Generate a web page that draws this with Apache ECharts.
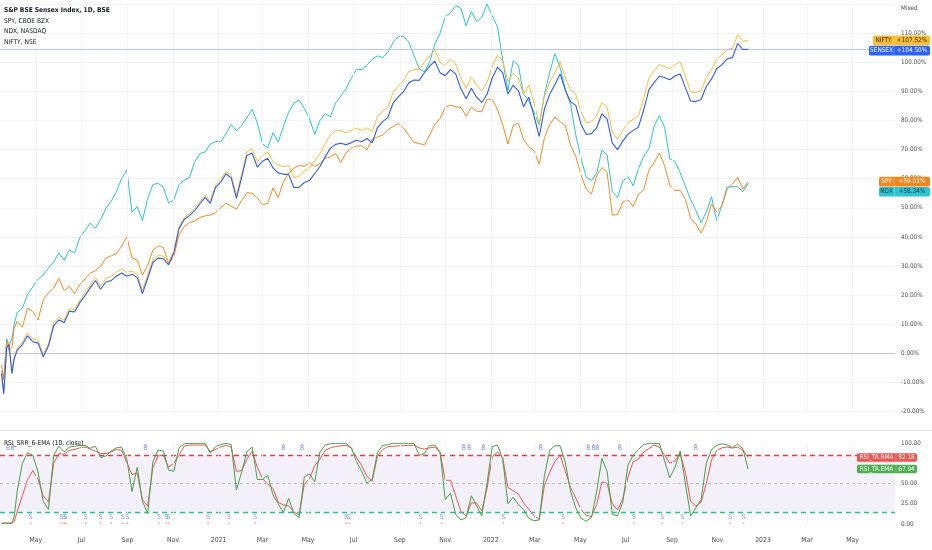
<!DOCTYPE html>
<html><head><meta charset="utf-8">
<script src="https://cdn.jsdelivr.net/npm/echarts@6/dist/echarts.min.js"></script>
<style>html,body{margin:0;padding:0;background:#fff}#c{width:932px;height:550px}</style>
</head><body><div id="c"></div>
<script>
const dates = ['2020-03-16','2020-03-19','2020-03-23','2020-03-26','2020-03-30','2020-04-02','2020-04-06','2020-04-13','2020-04-20','2020-04-27',
'2020-05-04','2020-05-11','2020-05-18','2020-05-25','2020-06-01','2020-06-08','2020-06-15','2020-06-22','2020-06-29','2020-07-06',
'2020-07-13','2020-07-20','2020-07-27','2020-08-03','2020-08-10','2020-08-17','2020-08-24','2020-08-31','2020-09-07','2020-09-14',
'2020-09-21','2020-09-28','2020-10-05','2020-10-12','2020-10-19','2020-10-26','2020-11-02','2020-11-09','2020-11-16','2020-11-23',
'2020-11-30','2020-12-07','2020-12-14','2020-12-21','2020-12-28','2021-01-04','2021-01-11','2021-01-18','2021-01-25','2021-02-01',
'2021-02-08','2021-02-15','2021-02-22','2021-03-01','2021-03-08','2021-03-15','2021-03-22','2021-03-29','2021-04-05','2021-04-12',
'2021-04-19','2021-04-26','2021-05-03','2021-05-10','2021-05-17','2021-05-24','2021-05-31','2021-06-07','2021-06-14','2021-06-21',
'2021-06-28','2021-07-05','2021-07-12','2021-07-19','2021-07-26','2021-08-02','2021-08-09','2021-08-16','2021-08-23','2021-08-30',
'2021-09-06','2021-09-13','2021-09-20','2021-09-27','2021-10-04','2021-10-11','2021-10-18','2021-10-25','2021-11-01','2021-11-08',
'2021-11-15','2021-11-22','2021-11-29','2021-12-06','2021-12-13','2021-12-20','2021-12-27','2022-01-03','2022-01-10','2022-01-17',
'2022-01-24','2022-01-31','2022-02-07','2022-02-14','2022-02-21','2022-02-28','2022-03-07','2022-03-14','2022-03-21','2022-03-28',
'2022-04-04','2022-04-11','2022-04-18','2022-04-25','2022-05-02','2022-05-09','2022-05-16','2022-05-23','2022-05-30','2022-06-06',
'2022-06-13','2022-06-20','2022-06-27','2022-07-04','2022-07-11','2022-07-18','2022-07-25','2022-08-01','2022-08-08','2022-08-15',
'2022-08-22','2022-08-29','2022-09-05','2022-09-12','2022-09-19','2022-09-26','2022-10-03','2022-10-10','2022-10-17','2022-10-24',
'2022-10-31','2022-11-07','2022-11-14','2022-11-21','2022-11-28','2022-12-05','2022-12-12'];

const sensex = [-7,-14,2,3,-7,-2,1,3,6,4,
3.5,-1.2,2.5,9.5,11.5,10.5,14.5,14.2,17.4,19.8,
22.5,25,22,24.5,25,26.5,27.6,26.5,27.2,26,
20.5,25.8,31.2,32.7,32.5,30.4,34.5,42.8,46,47.3,
49,51.4,53.6,51.5,57,58.8,61.7,60.3,53.2,60.5,
68,68.8,64,66,67,63.7,62,61.5,61.5,57,
57,58.7,59.4,61.8,64.2,67.5,70.5,71.8,72.2,71.7,
72.4,73.2,72.7,73.8,72.3,77.5,79.6,81,86,88.1,
89.9,92.9,93.9,93.8,96.4,98.7,100.4,96.4,95.4,97.5,
96,90.9,87.5,91.1,88,86.2,89,94.6,98.3,96.4,
89.1,92.1,90.3,84.7,88,81.5,74.5,84,89,92.3,
96,90.4,86.4,85.2,78.8,75.2,75.5,77.5,82.3,80.5,
72.2,70,72.9,75.3,76.6,77.7,83.6,90.5,93,95.2,
94.8,94,95.3,96,91.2,86.7,86.5,87.2,91.7,94.3,
97.8,99.2,101.2,101.6,106.4,104.4,104.5];

const nifty = [-6.5,-13,2.8,3.8,-6,-1.2,1.8,3.8,7,5,
4.4,-0.3,3.3,10.4,12.4,11.4,15.3,15.1,18.3,20.8,
23.5,26.1,23.1,25.7,26.4,28,29,27.8,28.2,27.1,
21.6,26.8,32.2,33.6,33.4,31.3,35.3,43.4,46.6,48,
49.8,52.2,54.4,52.4,57.8,59.7,62.5,61.2,54.3,61.5,
69.2,70.3,65.8,68,69.2,65.9,64.6,64.2,64.5,60.3,
60.8,62.7,63.6,66,68.6,72,75,76.4,76.5,75.8,
76.6,77.3,76.6,77.5,76.2,81.2,83.3,84.6,89.7,91.9,
93.6,96.8,97.5,97.4,100.1,102.4,104.2,100,98.9,101.1,
99.4,94.5,91,95,92,90.3,93,98.7,102.4,100.5,
93.4,96.3,94.6,89,92.2,86,78.8,88.3,93.2,96.5,
100.3,94.6,90.5,89.1,82.8,79.3,79.6,81.6,86.2,84.6,
76,73.5,76.6,79.1,80.4,81.6,87.5,94.5,97.1,99.2,
98.5,97.8,99.2,100.1,95.2,89.8,89.6,90.3,94.8,97.5,
101.1,102.5,104.4,104.8,109.4,107.2,107.52];

const spy = [-4,-9,4,1,2,8.5,11,9,15.5,14.3,
11.4,18.4,20.8,22.4,25.7,21.5,23,20.5,23.7,25.6,
27.5,28.5,30,32.7,33.5,34.2,36.8,40,32.8,32,
26.9,30.2,35.5,36.9,36.4,30.9,33,40.7,43.5,44.9,
45.5,46.7,47.2,47.5,48.3,50,51.5,50.6,49.5,52.5,
55.2,55,53.4,51.1,51.5,56.9,53.5,58.9,61.9,63.6,
64.5,64.3,65.5,64.2,65.2,67,67.5,68.6,65.6,68.9,
70.5,71.2,71.3,69.9,73.6,74.3,75,76.8,77.9,78.9,
77.4,75,72.5,72.1,71.6,75,78.6,80.7,84.5,85.3,
84.7,84.5,81.5,84.6,83.2,83,87.4,87.2,83.8,78.5,
71.9,78.2,79.1,73.5,71,69.6,65,74.1,78.6,81.2,
79.6,78.3,71.5,67.7,61.3,56.4,54.7,61,63.8,62.2,
47.5,47.7,52,52.7,50.5,54.7,56.1,63,65.5,68.8,
64.5,57.8,55.9,56,52.9,46.4,44.5,41.3,45.2,51.3,
48.6,50.7,56.4,58.1,60.5,56.4,59.01];

const ndx = [-6,-9,5,2.5,5,10,14,15.5,20.3,22.8,
25.5,26.9,29.3,31.5,34.5,32,35.5,34.5,39.7,42.2,
44.8,43,46,49.8,52.2,55.5,60,63,48.5,50.4,
45.7,53.2,58,58.4,57.1,51.7,52.6,58,59.5,60.4,
65.8,68.6,69.2,71.9,72.8,72.7,75.5,78.6,76.5,78.2,
81,83.8,79.2,72,70.6,75.8,72.6,77.9,82.8,86,
87,84.2,80.6,75.2,80,82.4,81.3,86,88.4,90.9,
94.5,97.6,97.5,99,101,102.2,101.6,103.5,106.8,108.9,
108.9,107,102.4,97.8,96.7,100,106.3,110,115.7,117,
119.5,118.5,112.5,117.5,114,115.5,120,116,112.2,100.8,
90.3,100.5,99,89,86.8,82.8,78.4,89,96.5,103,
98.2,90.6,85.5,75,67,60.5,59.4,61.9,69.8,68.2,
55.6,53.5,59.2,60.7,57.5,63.5,67.5,70.3,78,81.7,
77.7,66.8,65.9,62,57.4,52.8,49,44.9,48.5,53.8,
45.5,51,57.2,57.2,57.3,55.5,58.34];

const rsiEma = [0.8,1,1,1,1,9,40,75,88,85,
64,28,18,85,96,89,95,96,97,97,
93.5,96,82,84,90,94,95,80,40,70,
28,13,77,91.4,90,66.7,65,94,99,99.6,
99.6,99.6,99.6,87.5,95.5,98,99.5,98,42,64,
89.3,95,55,55,60,36,25,14,31.7,13,
8,58,62,52,89,97.4,99,99.6,99.6,99.6,
94,77,65,50.5,55,88,97,98,99.6,99.6,
99.6,99.6,99.6,85,87,97,97.5,89,30,38,
12,5,8,35,22,10,50,95.5,97.5,80,
25,33,24,18,7,4,5,60,91,96.5,
96.5,76,40,20,7,3.5,8,40,81,65,
12,10,27,73,85,92,98,99.6,99.6,99.6,
78,57,70,90,50,10,20,30,75,92,
97,99,97.5,94.5,98.5,93,67.94];

const rsiRma = [0.8,1,1,1,1,3,15,35,55,66,
55,35,27,75,87,86,91,92,94,95,
92.5,90,87,87,89,92,91,76,61,63,
30,22,70,84,85,70,75,85,96,97.5,
97.5,97.5,97.5,89.5,92,95,97,95,65,66,
80,90,70,56,49,44,27,23.5,22.5,15,
11,49,56,72,80,91,94,95.8,96.5,97.2,
94,82,72,58.6,53,83.5,92,95.6,96,96.5,
96.8,97,97.3,94,92.5,94,95,88,54,54,
35,15,10,26,26,16,44,83,89,82,
45,41,37,26,18,10,6,48,64,77,
85,65,45,32,18,10.5,9.2,24,52,50,
25,17.3,31,58,77,80,89,93,97.5,95,
85,75,78,87,64,28,22,27,50,79,
91,94,95,93.7,95,91,82.18];

const buyDates = ['2020-03-25','2020-03-31','2020-09-25','2021-03-29','2021-04-23','2021-11-26','2021-12-03','2021-12-22',
'2022-03-09','2022-05-12','2022-05-19','2022-05-24','2022-06-23','2022-10-03'];
const sellDates = ['2020-04-24','2020-06-04','2020-06-08','2020-06-10','2020-07-07','2020-07-27','2020-08-10','2020-08-26','2020-09-01',
'2020-10-13','2020-10-23','2020-10-26','2020-12-18','2021-01-15','2021-02-19','2021-06-21','2021-06-25','2021-09-29','2021-10-27',
'2022-01-18','2022-04-08','2022-07-12','2022-08-19','2022-09-15','2022-11-18','2022-12-06'];
const tickDates = ['2020-05-01','2020-07-01','2020-09-01','2020-11-01','2021-01-01','2021-03-01','2021-05-01','2021-07-01','2021-09-01','2021-11-01',
'2022-01-01','2022-03-01','2022-05-01','2022-07-01','2022-09-01','2022-11-01','2023-01-01','2023-03-01','2023-05-01'];
const monthNames = ['Jan','Feb','Mar','Apr','May','Jun','Jul','Aug','Sep','Oct','Nov','Dec'];
const rsiLevels = {upper: 85, middle: 50, lower: 15};
const markerLevels = {buy: 93, buyDot: 98, sell: 8, sellDot: 1};

const FONT = "'DejaVu Sans Condensed','Liberation Sans',Arial,sans-serif";
const X_MIN = '2020-03-14', X_MAX = '2023-06-27';
const C = {sensex:'#2f5ce6', nifty:'#f8bd34', spy:'#f28a1d', ndx:'#26c3d6', rma:'#ef5350', ema:'#43a047'};
function toTs(d){ const p = d.split('-').map(Number); return Date.UTC(p[0], p[1]-1, p[2]); }
function pairs(arr){ return dates.map((d,i)=>[toTs(d), arr[i]]); }
const last = a => a[a.length-1];
const tickTs = tickDates.map(toTs);

const chart = echarts.init(document.getElementById('c'), null, {renderer:'canvas'});
const xBase = {type:'value', min:toTs(X_MIN), max:toTs(X_MAX), axisLine:{show:false}, axisTick:{show:false}, splitLine:{show:false}};
const lineBase = {type:'line', showSymbol:false, symbol:'none', animation:false, lineStyle:{width:1}};
const vGrid = {silent:true, symbol:['none','none'], label:{show:false}, animation:false,
  lineStyle:{color:'#f3f3f6', width:1, type:'solid'}, data: tickTs.map(t => ({xAxis:t}))};

const option = {
  animation:false,
  backgroundColor:'#ffffff',
  textStyle:{fontFamily:FONT},
  grid:[
    {left:0, right:37, top:4.1, height:407.4},
    {left:0, right:37, top:443, height:81}
  ],
  xAxis:[
    Object.assign({}, xBase, {gridIndex:0, axisLabel:{show:false}}),
    Object.assign({}, xBase, {gridIndex:1, axisLabel:{show:true, customValues: tickTs,
      fontSize:6.8, color:'#4a4a4a', margin:13, fontFamily:FONT,
      formatter: v => { const d = new Date(v); return d.getUTCMonth()===0 ? String(d.getUTCFullYear()) : monthNames[d.getUTCMonth()]; }}})
  ],
  yAxis:[
    {type:'value', gridIndex:0, position:'right', min:-20, max:120, interval:10,
      axisLine:{show:false}, axisTick:{show:false},
      splitLine:{show:true, lineStyle:{color:'#f2f2f5'}},
      axisLabel:{fontSize:6.3, color:'#4a4a4a', margin:6, fontFamily:FONT,
        formatter: v => v===120 ? '' : v.toFixed(2)+'%'}},
    {type:'value', gridIndex:1, position:'right', min:0, max:100, interval:25,
      axisLine:{show:false}, axisTick:{show:false}, splitLine:{show:false},
      axisLabel:{fontSize:6.3, color:'#4a4a4a', margin:6, fontFamily:FONT, formatter: v => v===75 ? '' : v.toFixed(2)}}
  ],
  series:[
    Object.assign({}, lineBase, {name:'NDX', xAxisIndex:0, yAxisIndex:0, data:pairs(ndx), itemStyle:{color:C.ndx}, lineStyle:{width:1, color:C.ndx}, z:2, markLine:vGrid}),
    Object.assign({}, lineBase, {name:'SPY', xAxisIndex:0, yAxisIndex:0, data:pairs(spy), itemStyle:{color:C.spy}, lineStyle:{width:1, color:C.spy}, z:3}),
    Object.assign({}, lineBase, {name:'NIFTY', xAxisIndex:0, yAxisIndex:0, data:pairs(nifty), itemStyle:{color:C.nifty}, lineStyle:{width:1, color:C.nifty}, z:4}),
    Object.assign({}, lineBase, {name:'SENSEX', xAxisIndex:0, yAxisIndex:0, data:pairs(sensex), itemStyle:{color:C.sensex}, lineStyle:{width:1.1, color:C.sensex}, z:5,
      markLine:{silent:true, symbol:['none','none'], label:{show:false}, animation:false,
        data:[{yAxis:0, lineStyle:{color:'#c4c6cc', width:1, type:'solid'}},
              {yAxis:last(sensex), lineStyle:{color:'#b8c4f2', width:1, type:'solid'}}]}}),
    Object.assign({}, lineBase, {name:'RSI_TA.RMA', xAxisIndex:1, yAxisIndex:1, data:pairs(rsiRma), itemStyle:{color:C.rma}, lineStyle:{width:1, color:C.rma}, z:4,
      markArea:{silent:true, itemStyle:{color:'rgba(126,87,194,0.09)'}, data:[[{yAxis:rsiLevels.lower},{yAxis:rsiLevels.upper}]]},
      markLine:{silent:true, symbol:['none','none'], label:{show:false}, animation:false,
        data:[{yAxis:rsiLevels.upper, lineStyle:{color:'#f23645', width:1.3, type:[5,4]}},
              {yAxis:rsiLevels.middle, lineStyle:{color:'#b8bac2', width:1, type:[3,3]}},
              {yAxis:rsiLevels.lower, lineStyle:{color:'#22c38e', width:1.3, type:[5,4]}}]}}),
    Object.assign({}, lineBase, {name:'RSI_TA.EMA', xAxisIndex:1, yAxisIndex:1, data:pairs(rsiEma), itemStyle:{color:C.ema}, lineStyle:{width:1, color:C.ema}, z:5,
      markLine:vGrid}),
    {type:'scatter', xAxisIndex:1, yAxisIndex:1, symbolSize:0, z:6, silent:true,
      data:buyDates.map(d=>[toTs(d), markerLevels.buy]),
      label:{show:true, position:'inside', formatter:'B', color:'#5b7cf0', fontSize:6.8, fontFamily:FONT}},
    {type:'scatter', xAxisIndex:1, yAxisIndex:1, symbolSize:0, z:6, silent:true,
      data:sellDates.map(d=>[toTs(d), markerLevels.sell]),
      label:{show:true, position:'inside', formatter:'S', color:'#5b7cf0', fontSize:6.8, fontFamily:FONT}},
    {type:'scatter', xAxisIndex:1, yAxisIndex:1, symbol:'rect', symbolSize:[1.5,1.5], z:6, silent:true,
      itemStyle:{color:'#f47a8a'},
      data:buyDates.map(d=>[toTs(d), markerLevels.buyDot]).concat(sellDates.map(d=>[toTs(d), markerLevels.sellDot]))}
  ]
};
chart.setOption(option);

function txt(x, y, s, opts, z){ return {type:'text', z:z||100, silent:true,
  style:Object.assign({x:x, y:y, text:s, fill:'#131722', fontSize:6.6, fontFamily:FONT, verticalAlign:'middle'}, opts||{})}; }
function tag(y, name, val, bg, fg, x0, nameW, valW, h){
  return [
    {type:'rect', z:101, silent:true, shape:{x:x0, y:y-h/2, width:nameW, height:h, r:[1.5,0,0,1.5]}, style:{fill:bg}},
    {type:'rect', z:101, silent:true, shape:{x:x0+nameW, y:y-h/2, width:valW, height:h, r:[0,2,2,0]}, style:{fill:bg}},
    {type:'line', z:102, silent:true, shape:{x1:x0+nameW, y1:y-h/2, x2:x0+nameW, y2:y+h/2}, style:{stroke:'rgba(255,255,255,0.4)', lineWidth:0.6}},
    txt(x0+nameW/2, y, name, {align:'center', fill:fg, fontSize:6.4}, 103),
    txt(x0+nameW+valW/2, y, val, {align:'center', fill:fg, fontSize:6.4}, 103)
  ];
}
function place(items, gap){
  items.sort((a,b)=>a.y-b.y);
  for (let i=1;i<items.length;i++){ if (items[i].y - items[i-1].y < gap) items[i].y = items[i-1].y + gap; }
  return items;
}
const py = v => chart.convertToPixel({yAxisIndex:0}, v);
const ry = v => chart.convertToPixel({yAxisIndex:1}, v);
const fmtPct = v => (v>=0?'+':'') + v.toFixed(2) + '%';
const mainTags = place([
  {y:py(last(nifty)), name:'NIFTY', val:fmtPct(last(nifty)), bg:'#f8bd34', fg:'#3a2a00', nameW:21},
  {y:py(last(sensex)), name:'SENSEX', val:fmtPct(last(sensex)), bg:'#2962ff', fg:'#ffffff', nameW:25},
  {y:py(last(spy)), name:'SPY', val:fmtPct(last(spy)), bg:'#f0861f', fg:'#ffffff', nameW:15},
  {y:py(last(ndx)), name:'NDX', val:fmtPct(last(ndx)), bg:'#2ec4d4', fg:'#0f3a3f', nameW:15}
], 10.2);
const rsiTags = place([
  {y:ry(last(rsiRma)), name:'RSI_TA.RMA', val:last(rsiRma).toFixed(2), bg:'#f05350', fg:'#ffffff', nameW:39},
  {y:ry(last(rsiEma)), name:'RSI_TA.EMA', val:last(rsiEma).toFixed(2), bg:'#4caf50', fg:'#ffffff', nameW:39}
], 10);

let g = [
  {type:'line', z:90, silent:true, shape:{x1:0, y1:430.5, x2:932, y2:430.5}, style:{stroke:'#e0e3eb', lineWidth:1}},
  txt(4, 10.5, 'S&P BSE Sensex Index, 1D, BSE', {fontWeight:'bold'}),
  txt(4, 21, 'SPY, CBOE BZX'),
  txt(4, 31.5, 'NDX, NASDAQ'),
  txt(4, 42, 'NIFTY, NSE'),
  txt(4, 443.5, 'RSI_SRR_6-EMA (10, close)'),
  txt(901, 8, 'Mixed', {fill:'#4a4a4a', fontSize:6.3})
];
mainTags.forEach(t => { g = g.concat(tag(t.y, t.name, t.val, t.bg, t.fg, 930 - 36 - t.nameW, t.nameW, 36, 9.6)); });
rsiTags.forEach(t => { g = g.concat(tag(t.y, t.name, t.val, t.bg, t.fg, 917 - 21 - t.nameW, t.nameW, 21, 8.6)); });
chart.setOption({graphic:{elements:g}});
</script></body></html>
